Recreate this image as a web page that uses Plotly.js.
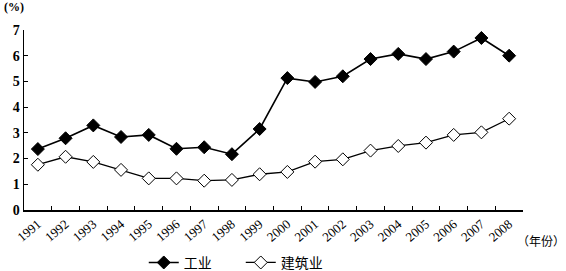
<!DOCTYPE html>
<html>
<head>
<meta charset="utf-8">
<script src="https://cdn.plot.ly/plotly-3.0.1.min.js"></script>
<style>html,body{margin:0;padding:0;background:#fff;}#chart{width:566px;height:271px;}</style>
</head>
<body>
<div id="chart"></div>
<script>
const years = ["1991","1992","1993","1994","1995","1996","1997","1998","1999","2000","2001","2002","2003","2004","2005","2006","2007","2008"];
const industry = [2.37,2.79,3.29,2.84,2.92,2.38,2.44,2.17,3.15,5.13,4.98,5.20,5.87,6.07,5.87,6.16,6.69,6.00];
const construction = [1.76,2.07,1.87,1.56,1.23,1.23,1.14,1.17,1.39,1.48,1.88,1.97,2.31,2.49,2.62,2.92,3.02,3.55];
const seriesNames = ["工业","建筑业"];
const yTicks = [0,1,2,3,4,5,6,7];

const serif = "Liberation Serif, DejaVu Serif, serif";
const cjk = "Noto Sans CJK SC, sans-serif";

const data = [
  {x: years, y: industry, name: seriesNames[0], type: "scatter", mode: "lines+markers",
   line: {color: "#000", width: 1.6},
   marker: {symbol: "diamond", size: 10, color: "#000", line: {color: "#000", width: 1}}},
  {x: years, y: construction, name: seriesNames[1], type: "scatter", mode: "lines+markers",
   line: {color: "#000", width: 1.3},
   marker: {symbol: "diamond", size: 10, color: "#fff", line: {color: "#000", width: 1}}}
];

const layout = {
  width: 566, height: 271,
  margin: {l: 24, r: 43, t: 30, b: 61},
  paper_bgcolor: "#fff", plot_bgcolor: "#fff",
  showlegend: true,
  legend: {orientation: "h", xref: "container", yref: "container", x: 0.254, xanchor: "left",
           y: 0.03, yanchor: "middle",
           font: {family: cjk, size: 14, color: "#000"}, entrywidth: 52, entrywidthmode: "pixels",
           bgcolor: "rgba(0,0,0,0)"},
  xaxis: {type: "category", range: [-0.5, 17.5], showline: true, linecolor: "#000", linewidth: 1.5,
          ticks: "inside", tickson: "boundaries", ticklen: 4, tickcolor: "#000",
          tickangle: -40, tickfont: {family: serif, size: 13, color: "#000"}, automargin: false,
          showgrid: false, zeroline: false, fixedrange: true},
  yaxis: {range: [0, 7], tickvals: yTicks, showline: true, linecolor: "#000", linewidth: 1.5,
          ticks: "inside", ticklen: 4, tickcolor: "#000", automargin: false,
          tickfont: {family: serif, size: 14, color: "#000", weight: "bold"},
          showgrid: false, zeroline: false, fixedrange: true},
  annotations: [
    {text: "(%)", xref: "paper", yref: "paper", x: -0.045, y: 1.08, xanchor: "left", yanchor: "bottom",
     showarrow: false, font: {family: serif, size: 12, color: "#000", weight: "bold"}},
    {text: "（年份）", xref: "paper", yref: "paper", x: 0.983, y: -0.17, xanchor: "left", yanchor: "middle",
     showarrow: false, font: {family: cjk, size: 12, color: "#000"}}
  ]
};

Plotly.newPlot("chart", data, layout, {displayModeBar: false, staticPlot: true});
</script>
</body>
</html>
